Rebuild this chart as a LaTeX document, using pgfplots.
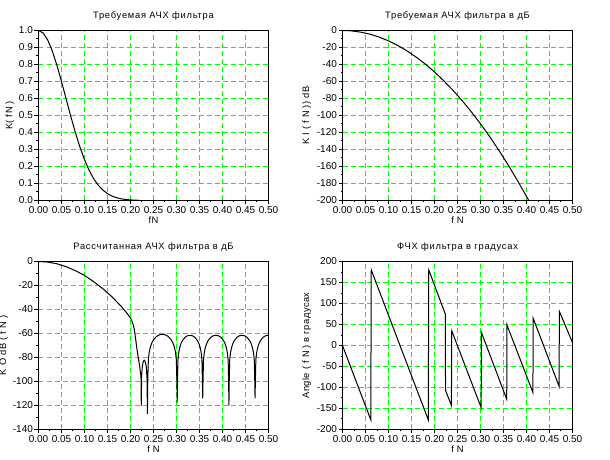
\documentclass[border=0pt]{standalone}
\usepackage{fontspec}
\setmainfont{Liberation Sans}
\newfontfamily\ttlfont[LetterSpace=8]{Liberation Sans}
\newfontfamily\lblfont[LetterSpace=5]{Liberation Sans}
\usepackage{pgfplots}
\pgfplotsset{compat=1.18}
\definecolor{grd}{RGB}{0,255,0}

% 1px = 0.75pt; axis lines placed on pixel centres so 1px lines stay crisp
\pgfplotsset{
  sci/.style={
    scale only axis, width=172.5pt,
    xmin=0, xmax=0.5,
    xtick={0,0.05,0.1,0.15,0.2,0.25,0.3,0.35,0.4,0.45,0.5},
    xticklabels={0.00,0.05,0.10,0.15,0.20,0.25,0.30,0.35,0.40,0.45,0.50},
    minor xtick={0.025,0.075,0.125,0.175,0.225,0.275,0.325,0.375,0.425,0.475},
    tick align=outside, tick pos=left,
    major tick length=3pt, minor tick length=1.5pt,
    xmajorgrids=true, ymajorgrids=true,
    major grid style={grd, dash pattern=on 3.75pt off 2.25pt, line width=0.75pt},
    axis line style={line width=0.75pt},
    major tick style={black, line width=0.75pt},
    minor tick style={black, line width=0.75pt},
    tick label style={font=\fontsize{7.5}{8}\selectfont, inner sep=1pt},
    /pgf/number format/assume math mode=true,
    every axis title/.style={font=\ttlfont\fontsize{7}{8}\selectfont,
      at={([yshift=10.6pt]axis description cs:0.5,1)}, anchor=center},
    every axis x label/.style={font=\lblfont\fontsize{7}{8}\selectfont,
      at={([yshift=-15pt]axis description cs:0.5,0)}, anchor=center},
    every axis y label/.style={font=\lblfont\fontsize{7}{8}\selectfont,
      rotate=90, anchor=center},
  },
  crv/.style={black, line width=0.75pt, mark=none},
}

\begin{document}
\begin{tikzpicture}

% top left
\begin{axis}[sci, at={(28.875pt,194.625pt)}, anchor=south west, height=127.5pt,
  ymin=0, ymax=1,
  ytick={0,0.1,0.2,0.3,0.4,0.5,0.6,0.7,0.8,0.9,1},
  yticklabels={0.0,0.1,0.2,0.3,0.4,0.5,0.6,0.7,0.8,0.9,1.0},
  minor ytick={0.05,0.15,0.25,0.35,0.45,0.55,0.65,0.75,0.85,0.95},
  title={Требуемая АЧХ фильтра}, xlabel={fN}, ylabel={K( fN )},
  ylabel style={at={([xshift=-21.4pt]axis description cs:0,0.5)}}]
\addplot[crv] coordinates {
(0,1) (0.01,0.9858) (0.02,0.9445) (0.03,0.8795) (0.04,0.7959) (0.05,0.6999)
(0.06,0.5983) (0.07,0.4970) (0.08,0.4012) (0.09,0.3148) (0.10,0.2400)
(0.11,0.1779) (0.12,0.1281) (0.13,0.0897) (0.14,0.0610) (0.15,0.0403)
(0.16,0.0259) (0.17,0.0162) (0.18,0.0098) (0.19,0.0058) (0.20,0.0033)
(0.21,0.0019) (0.22,0.0010)};
\end{axis}

% top right
\begin{axis}[sci, at={(256.875pt,194.625pt)}, anchor=south west, height=127.5pt,
  ymin=-200, ymax=0, ytick={-200,-180,...,0},
  minor ytick={-190,-170,-150,-130,-110,-90,-70,-50,-30,-10},
  title={Требуемая АЧХ фильтра в дБ}, xlabel={f N}, ylabel={K I ( f N )) dB},
  ylabel style={at={([xshift=-26.9pt]axis description cs:0,0.5)}}]
\addplot[crv] coordinates {
(0,0) (0.01,-0.12) (0.02,-0.49) (0.04,-1.95) (0.06,-4.39) (0.08,-7.81)
(0.10,-12.2) (0.12,-17.57) (0.14,-23.91) (0.16,-31.23) (0.18,-39.53)
(0.20,-48.8) (0.22,-59.05) (0.24,-70.27) (0.26,-82.47) (0.28,-95.65)
(0.30,-109.8) (0.32,-124.93) (0.34,-141.03) (0.36,-158.11) (0.38,-176.17)
(0.40,-195.2) (0.405,-200)};
\end{axis}

% bottom left
\begin{axis}[sci, at={(28.875pt,22.875pt)}, anchor=south west, height=126pt,
  ymin=-140, ymax=0, ytick={-140,-120,...,0},
  minor ytick={-130,-110,-90,-70,-50,-30,-10},
  title={Рассчитанная АЧХ фильтра в дБ}, xlabel={f N}, ylabel={K O dB ( f N )},
  ylabel style={at={([xshift=-26pt]axis description cs:0,0.5)}}]
\addplot[crv] coordinates {
(0,0) (0.02,-0.45) (0.04,-1.9) (0.06,-4.3) (0.08,-7.6) (0.10,-11.6)
(0.12,-16.8) (0.14,-22.7) (0.16,-29.5) (0.18,-37.5) (0.19,-42) (0.20,-47)
(0.205,-51.5) (0.208,-56) (0.211,-64) (0.214,-73) (0.2177,-82)
(0.2195,-86) (0.2215,-92) (0.2228,-96) (0.2235,-120) (0.2242,-95)
(0.2258,-87) (0.2280,-83) (0.2300,-82.3) (0.2320,-83.5) (0.2345,-88)
(0.2360,-98) (0.2368,-127) (0.2376,-97)
(0.2389,-81.2) (0.2409,-75.2) (0.2435,-70.9) (0.2467,-67.6) (0.2499,-65.3)
(0.2564,-62.5) (0.2628,-61.1) (0.2693,-60.7) (0.2757,-61.1) (0.2822,-62.5)
(0.2886,-65.3) (0.2918,-67.6) (0.2951,-70.9) (0.2976,-75.2) (0.2996,-81.2)
(0.3008,-99) (0.3015,-117.5) (0.3022,-99)
(0.3032,-82) (0.3048,-76) (0.3071,-71.7) (0.3098,-68.4) (0.3126,-66.1)
(0.3182,-63.3) (0.3237,-61.9) (0.3293,-61.5) (0.3348,-61.9) (0.3404,-63.3)
(0.3459,-66.1) (0.3487,-68.4) (0.3515,-71.7) (0.3537,-76) (0.3553,-82)
(0.3563,-99) (0.3570,-114) (0.3577,-99)
(0.3587,-82) (0.3604,-76) (0.3627,-71.7) (0.3656,-68.4) (0.3684,-66.1)
(0.3741,-63.3) (0.3798,-61.9) (0.3855,-61.5) (0.3912,-61.9) (0.3969,-63.3)
(0.4026,-66.1) (0.4055,-68.4) (0.4083,-71.7) (0.4106,-76) (0.4123,-82)
(0.4133,-99) (0.4140,-120) (0.4147,-99)
(0.4157,-82) (0.4174,-76) (0.4197,-71.7) (0.4225,-68.4) (0.4254,-66.1)
(0.4310,-63.3) (0.4367,-61.9) (0.4424,-61.5) (0.4481,-61.9) (0.4538,-63.3)
(0.4594,-66.1) (0.4623,-68.4) (0.4651,-71.7) (0.4674,-76) (0.4691,-82)
(0.4701,-99) (0.4708,-114) (0.4715,-99)
(0.4725,-82) (0.4742,-76) (0.4765,-71.7) (0.4794,-68.4) (0.4822,-66.1)
(0.4879,-63.3) (0.4936,-61.9) (0.4993,-61.5) (0.5,-61.6)};
\end{axis}

% bottom right
\begin{axis}[sci, at={(256.875pt,22.875pt)}, anchor=south west, height=126pt,
  ymin=-200, ymax=200, ytick={-200,-150,...,200},
  minor ytick={-175,-125,-75,-25,25,75,125,175},
  title={ФЧХ фильтра в градусах}, xlabel={f N}, ylabel={Angle ( f N ) в градусах},
  ylabel style={at={([xshift=-26.9pt]axis description cs:0,0.5)}}]
\addplot[crv] coordinates {
(0,0) (0.0615,-177) (0.0625,180) (0.1865,-177) (0.1875,180) (0.2235,75)
(0.2240,-107) (0.2368,-143) (0.2375,35) (0.3015,-148) (0.3020,31)
(0.3570,-128) (0.3575,49) (0.4140,-112) (0.4145,65) (0.4708,-97)
(0.4715,81) (0.5,7)};
\end{axis}

\pgfresetboundingbox
\path[use as bounding box] (0,0) rectangle (457.5pt,345pt);
\end{tikzpicture}
\end{document}
